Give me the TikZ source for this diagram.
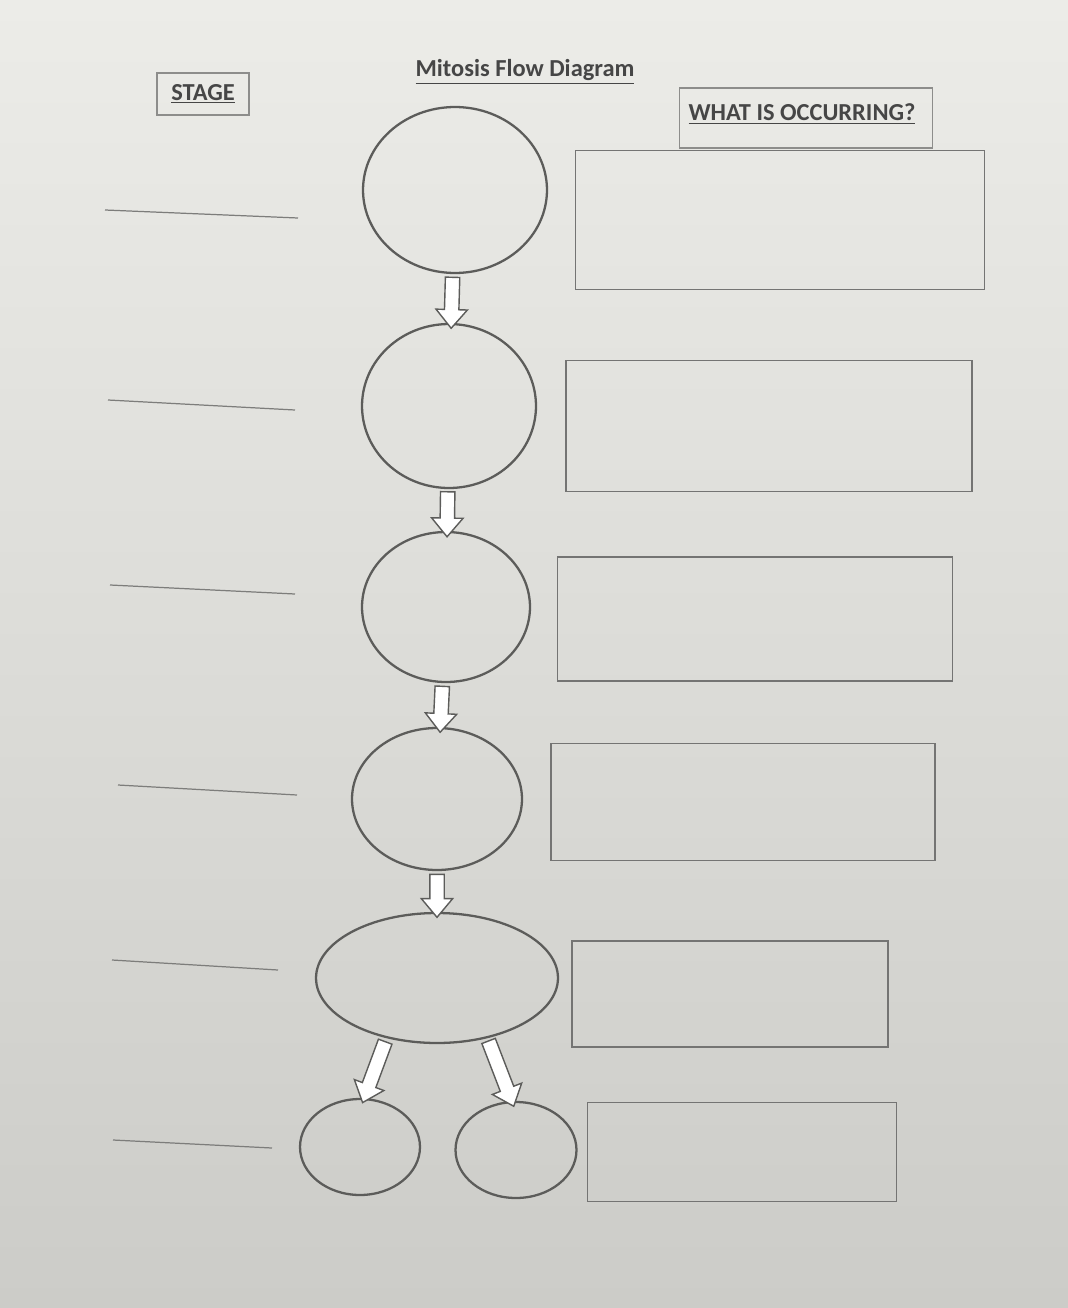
\documentclass[tikz,border=0pt]{standalone}
\usepackage{fontspec}
\setmainfont{Carlito}
\usepackage{tikz}
\usetikzlibrary{positioning,shapes.geometric,shapes.arrows}
\usepackage{xcolor}
\definecolor{mygray}{RGB}{92,92,90}
\definecolor{mytext}{RGB}{70,70,70}
\definecolor{bgtop}{RGB}{236,236,232}
\definecolor{bgbot}{RGB}{204,204,200}
\tikzstyle{cell}=[ellipse,draw=mygray,line width=1.3pt,inner sep=0pt]
\tikzstyle{answer box}=[rectangle,draw=mygray!85,line width=1pt,inner sep=0pt]
\tikzstyle{head box}=[rectangle,draw=mygray!70,line width=0.9pt,inner sep=0pt]
\tikzstyle{head text}=[text=mytext,font=\fontsize{13.9}{16}\selectfont\bfseries]
\tikzstyle{stage line}=[draw=mygray!80,line width=0.7pt]
\tikzstyle{block arrow}=[single arrow,draw=mygray,fill=white,line width=0.8pt,
  sloped,allow upside down,inner xsep=0pt,inner ysep=0.13cm,
  single arrow head extend=0.17cm,single arrow tip angle=80]

\begin{document}
\begin{tikzpicture}[x=0.02cm,y=-0.02cm]
\useasboundingbox (0,0) rectangle (1068,1308);
\fill[top color=bgtop,bottom color=bgbot] (0,0) rectangle (1068,1308);

% Headings
\node [head text] (title) at (525,72) {\underline{Mitosis Flow Diagram}};
\node [head box, minimum width=1.84cm, minimum height=0.84cm] (stagebox) at (203,94) {};
\node [head text] (stage) at (stagebox.center) {\underline{STAGE}};
\node [head box, minimum width=5.06cm, minimum height=1.2cm] (whatbox) at (806,118) {};
\node [head text] (what) at (802,114) {\underline{WHAT IS OCCURRING?}};

% Cells
\node [cell, minimum width=3.68cm, minimum height=3.32cm] (C1) at (455,190) {};
\node [cell, minimum width=3.48cm, minimum height=3.28cm] (C2) at (449,406) {};
\node [cell, minimum width=3.36cm, minimum height=3.00cm] (C3) at (446,607) {};
\node [cell, minimum width=3.40cm, minimum height=2.84cm] (C4) at (437,799) {};
\node [cell, minimum width=4.84cm, minimum height=2.60cm] (C5) at (437,978) {};
\node [cell, minimum width=2.40cm, minimum height=1.92cm] (C6) at (360,1147) {};
\node [cell, minimum width=2.42cm, minimum height=1.92cm] (C7) at (516,1150) {};

% Arrows
\path (C1) -- node [block arrow, minimum height=1.02cm] (a12) {} (C2);
\path (C2) -- node [block arrow, minimum height=0.9cm] (a23) {} (C3);
\path (C3) -- node [block arrow, minimum height=0.92cm] (a34) {} (C4);
\path (C4) -- node [block arrow, minimum height=0.86cm] (a45) {} (C5);
\path (C5.230) -- node [block arrow, minimum height=1.3cm] (a56) {} (C6.85);
\path (C5.310) -- node [block arrow, minimum height=1.4cm] (a57) {} (C7.95);

% Answer boxes
\node [answer box, minimum width=8.18cm, minimum height=2.78cm] (A1) at (780,220) {};
\node [answer box, minimum width=8.12cm, minimum height=2.62cm] (A2) at (769,426) {};
\node [answer box, minimum width=7.90cm, minimum height=2.48cm] (A3) at (755,619) {};
\node [answer box, minimum width=7.68cm, minimum height=2.34cm] (A4) at (743,802) {};
\node [answer box, minimum width=6.32cm, minimum height=2.12cm] (A5) at (730,994) {};
\node [answer box, minimum width=6.18cm, minimum height=1.98cm] (A6) at (742,1152) {};

% Stage blanks
\draw [stage line] (105,210) -- (298,218);
\draw [stage line] (108,400) -- (295,410);
\draw [stage line] (110,585) -- (295,594);
\draw [stage line] (118,785) -- (297,795);
\draw [stage line] (112,960) -- (278,970);
\draw [stage line] (113,1140) -- (272,1148);

\end{tikzpicture}
\end{document}
